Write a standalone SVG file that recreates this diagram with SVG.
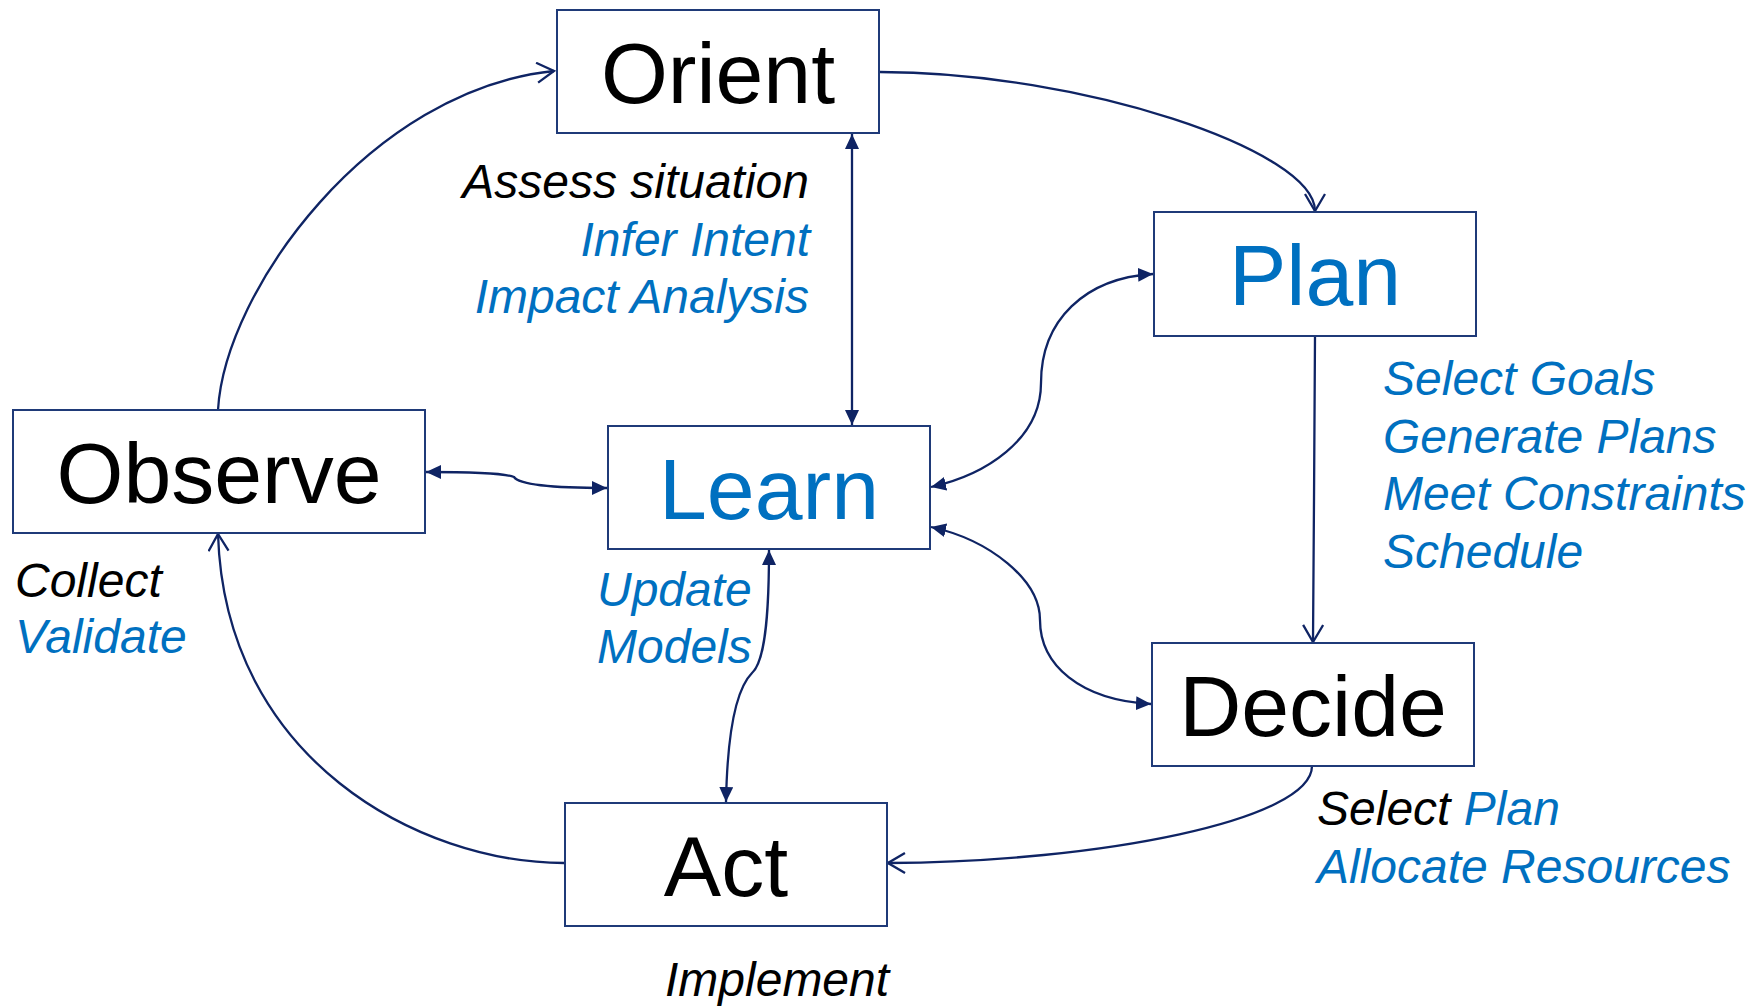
<svg xmlns="http://www.w3.org/2000/svg" width="1760" height="1006" viewBox="0 0 1760 1006">
<style>
.box{fill:#fff;stroke:#1F3A78;stroke-width:2}
.name{font-family:"Liberation Sans",Arial,sans-serif;font-size:86px;text-anchor:middle}
.lbl{font-family:"Liberation Sans",Arial,sans-serif;font-size:48px;font-style:italic}
.k{fill:#000}
.b{fill:#0070C0}
.c{fill:none;stroke:#0F2464;stroke-width:2.3}
.o{marker-end:url(#open)}
.d{marker-start:url(#fill);marker-end:url(#fill)}
</style>
<defs>
<marker id="open" markerUnits="userSpaceOnUse" markerWidth="20" markerHeight="24" viewBox="-1 -1 20 24" refX="17" refY="10" orient="auto">
<path d="M0,0 L17,10 L0,20" fill="none" stroke="#0F2464" stroke-width="2.3"/>
</marker>
<marker id="fill" markerUnits="userSpaceOnUse" markerWidth="16" markerHeight="14" viewBox="0 0 16 14" refX="15" refY="7" orient="auto-start-reverse">
<path d="M0,0 L15,7 L0,14 z" fill="#0F2464"/>
</marker>
</defs>
<rect width="1760" height="1006" fill="#fff"/>
<g id="connectors">
<path class="c o" d="M218,410 C225,290 370,90 554,71"/>
<path class="c o" d="M880,72 C1080,72 1315,150 1315,211"/>
<path class="c d" d="M852,134 L852,425"/>
<path class="c d" d="M426,472 C470,472 505,473 514,477 C520,486 560,488 607,488"/>
<path class="c d" d="M931,487 C985,475 1041,440 1041,383 C1041,320 1085,278 1153,274"/>
<path class="c d" d="M931,527 C990,540 1040,580 1040,620 C1040,665 1080,700 1151,704"/>
<path class="c o" d="M1315,336 L1314,500 L1313,642"/>
<path class="c o" d="M1312,766 C1312,820 1100,862 888,863"/>
<path class="c o" d="M564,863 C420,863 225,760 218,534"/>
<path class="c d" d="M769,550 C769,600 767,660 752,673 C745,680 728,700 726,802"/>
</g>
<g id="orient"><rect class="box" x="557" y="10" width="322" height="123"/><text class="name k" x="718" y="103">Orient</text></g>
<g id="observe"><rect class="box" x="13" y="410" width="412" height="123"/><text class="name k" x="219" y="503">Observe</text></g>
<g id="learn"><rect class="box" x="608" y="426" width="322" height="123"/><text class="name b" x="769" y="519">Learn</text></g>
<g id="plan"><rect class="box" x="1154" y="212" width="322" height="124"/><text class="name b" x="1315" y="305">Plan</text></g>
<g id="decide"><rect class="box" x="1152" y="643" width="322" height="123"/><text class="name k" x="1313" y="736">Decide</text></g>
<g id="act"><rect class="box" x="565" y="803" width="322" height="123"/><text class="name k" x="726" y="896">Act</text></g>
<g id="labels">
<text class="lbl k" x="809" y="198" text-anchor="end">Assess situation</text>
<text class="lbl b" x="810" y="256" text-anchor="end">Infer Intent</text>
<text class="lbl b" x="809" y="313" text-anchor="end">Impact Analysis</text>
<text class="lbl b" x="1383" y="395">Select Goals</text>
<text class="lbl b" x="1383" y="453">Generate Plans</text>
<text class="lbl b" x="1383" y="510">Meet Constraints</text>
<text class="lbl b" x="1383" y="568">Schedule</text>
<text class="lbl k" x="15" y="597">Collect</text>
<text class="lbl b" x="15" y="653">Validate</text>
<text class="lbl b" x="597" y="606">Update</text>
<text class="lbl b" x="597" y="663">Models</text>
<text class="lbl k" x="665" y="996">Implement</text>
<text class="lbl k" x="1317" y="825">Select <tspan class="b">Plan</tspan></text>
<text class="lbl b" x="1317" y="883">Allocate Resources</text>
</g>
</svg>
